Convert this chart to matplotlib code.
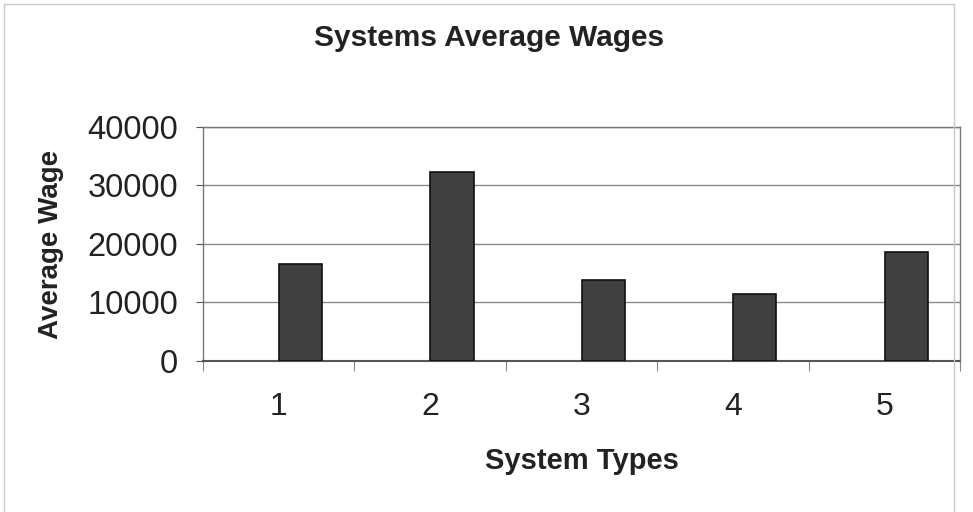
import matplotlib.pyplot as plt
from matplotlib.patches import Rectangle

# values
system_types = [1, 2, 3, 4, 5]
average_wages = [16600, 32300, 13800, 11400, 18700]
y_ticks = [0, 10000, 20000, 30000, 40000]

plt.rcParams['font.family'] = ['Liberation Sans', 'DejaVu Sans']

fig = plt.figure(figsize=(9.73, 5.12), dpi=100)
ax = fig.add_axes([0.2086, 0.295, 0.778, 0.457])

# Excel-style: bars sit a little right of the category centre
offset = 0.145
ax.bar([x + offset for x in system_types], average_wages, width=0.285,
       color='#404040', edgecolor='#111111', linewidth=1.2, zorder=3)

ax.set_xlim(0.5, 5.5)
ax.set_ylim(0, 40000)
ax.set_yticks(y_ticks)
ax.set_yticklabels([str(v) for v in y_ticks], fontsize=23.5, color='#222222')
ax.tick_params(axis='y', direction='out', length=5, width=0.8, color='#555555', pad=13)

ax.set_xticks([x - 0.5 for x in system_types] + [5.5])
ax.set_xticklabels([])
ax.set_xticks(system_types, minor=True)
ax.set_xticklabels([str(s) for s in system_types], minor=True, fontsize=23, color='#222222')
ax.tick_params(axis='x', which='major', direction='out', length=7, width=0.8, color='#888888')
ax.tick_params(axis='x', which='minor', length=0, pad=22)

for v in y_ticks[1:]:
    ax.axhline(v, color='#8a8a8a', linewidth=1.0, zorder=1)

for side in ['left', 'right', 'top']:
    ax.spines[side].set_color('#777777')
    ax.spines[side].set_linestyle((0, (1, 1)))
    ax.spines[side].set_linewidth(1.0)
ax.spines['bottom'].set_color('#555555')
ax.spines['bottom'].set_linewidth(1.5)
ax.spines['bottom'].set_linestyle((0, (1, 1)))

ax.set_xlabel('System Types', fontsize=21, fontweight='bold', color='#222222', labelpad=18)
ax.set_ylabel('Average Wage', fontsize=20, fontweight='bold', color='#222222', labelpad=17)
fig.text(0.503, 0.925, 'Systems Average Wages', ha='center', va='center',
         fontsize=21.5, fontweight='bold', color='#222222')

# outer chart-area border
fig.patches.append(Rectangle((0.004, -0.01), 0.976, 1.002, transform=fig.transFigure,
                             fill=False, edgecolor='#c8c8c8', linewidth=1.0))

fig.savefig('out.png', dpi=100)
